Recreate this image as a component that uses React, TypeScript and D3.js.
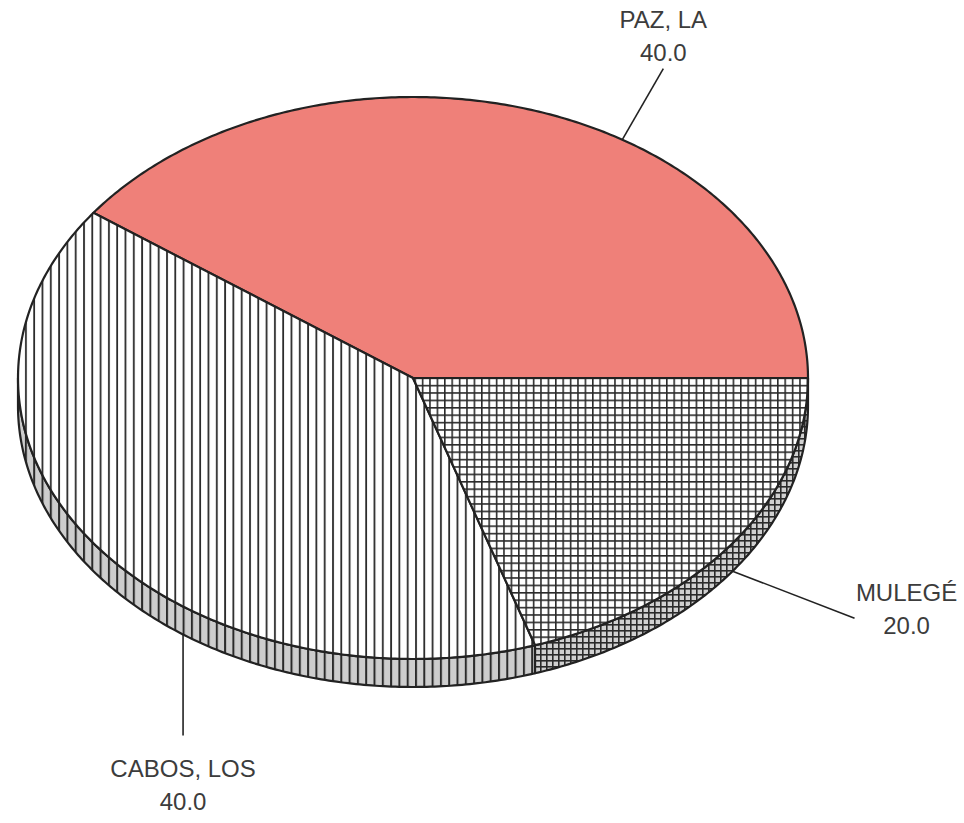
import * as d3 from 'd3';

const categories = ['PAZ, LA', 'CABOS, LOS', 'MULEGÉ'];
const values = [40.0, 40.0, 20.0];
const valueLabels = ['40.0', '40.0', '20.0'];

export default function App() {
  const width = 964;
  const height = 823;
  const cx = 413;
  const cy = 378;
  const rx = 395;
  const ry = 281;
  const depth = 28;
  const stroke = '#222';

  // angles go counter-clockwise from 3 o'clock, like the drawing
  const pie = d3
    .pie<number>()
    .sort(null)
    .value((d) => d)
    .startAngle(0)
    .endAngle(Math.PI * 2);
  const arcs = pie(values);

  const pt = (t: number, dz = 0): [number, number] => [cx + rx * Math.cos(t), cy - ry * Math.sin(t) + dz];
  const sample = (a: number, b: number, dz = 0) => {
    const n = Math.max(2, Math.ceil(Math.abs(b - a) / 0.01));
    return d3.range(n + 1).map((i) => pt(a + ((b - a) * i) / n, dz));
  };
  const line = d3.line();

  const topPath = (a: number, b: number) => line([[cx, cy], ...sample(a, b)])! + 'Z';
  const wallPath = (a: number, b: number) => {
    const s = Math.max(a, Math.PI);
    const e = Math.min(b, Math.PI * 2);
    if (e <= s) return null;
    return line([...sample(s, e), ...sample(e, s, depth)])! + 'Z';
  };

  const topFills = ['#ef8079', 'url(#vstripe)', 'url(#grid)'];
  const wallFills = ['#ef8079', 'url(#vstripeWall)', 'url(#gridWall)'];

  // leader layout: anchor angle (deg) on the rim, offset to label end
  const labelLayout = [
    { angle: 58, dx: 41, dy: -71, wall: false, textDx: 0, lines: [-41, -8] },
    { angle: 234.4, dx: 0, dy: 101, wall: true, textDx: 0, lines: [42, 75] },
    { angle: 324, dx: 122, dy: 47, wall: true, textDx: 52, lines: [-17, 16] },
  ];

  return (
    <svg width={width} height={height} style={{ position: 'absolute', left: 0, top: 0, background: '#fff' }}>
      <defs>
        <pattern id="vstripe" patternUnits="userSpaceOnUse" width={8.3} height={10}>
          <rect width={8.3} height={10} fill="#fff" />
          <line x1={1} x2={1} y1={0} y2={10} stroke="#2a2a2a" strokeWidth={1.8} />
        </pattern>
        <pattern id="vstripeWall" patternUnits="userSpaceOnUse" width={8.3} height={10}>
          <rect width={8.3} height={10} fill="#cdcdcd" />
          <line x1={1} x2={1} y1={0} y2={10} stroke="#2a2a2a" strokeWidth={2} />
        </pattern>
        <pattern id="grid" patternUnits="userSpaceOnUse" width={7.4} height={7.4}>
          <rect width={7.4} height={7.4} fill="#fff" />
          <line x1={0.8} x2={0.8} y1={0} y2={7.4} stroke="#2a2a2a" strokeWidth={1.6} />
          <line x1={0} x2={7.4} y1={0.8} y2={0.8} stroke="#2a2a2a" strokeWidth={1.6} />
        </pattern>
        <pattern id="gridWall" patternUnits="userSpaceOnUse" width={6} height={6}>
          <rect width={6} height={6} fill="#d0d0d0" />
          <line x1={0.8} x2={0.8} y1={0} y2={6} stroke="#2a2a2a" strokeWidth={1.6} />
          <line x1={0} x2={6} y1={0.8} y2={0.8} stroke="#2a2a2a" strokeWidth={1.6} />
        </pattern>
      </defs>

      {/* side walls */}
      {arcs.map((a, i) => {
        const d = wallPath(a.startAngle, a.endAngle);
        return d ? <path key={'w' + i} d={d} fill={wallFills[i]} stroke={stroke} strokeWidth={2.2} strokeLinejoin="round" /> : null;
      })}

      {/* top faces */}
      {arcs.map((a, i) => (
        <path key={'t' + i} d={topPath(a.startAngle, a.endAngle)} fill={topFills[i]} stroke={stroke} strokeWidth={2.2} strokeLinejoin="round" />
      ))}

      {/* labels */}
      {arcs.map((a, i) => {
        const lay = labelLayout[i];
        const [x0, y0] = pt((lay.angle * Math.PI) / 180, lay.wall ? depth : 0);
        const x1 = x0 + lay.dx;
        const y1 = y0 + lay.dy;
        const tx = x1 + lay.textDx;
        return (
          <g key={'l' + i}>
            <line x1={x0} y1={y0} x2={x1} y2={y1} stroke="#222" strokeWidth={1.6} />
            <text x={tx} y={y1 + lay.lines[0]} textAnchor="middle" fontFamily="Liberation Sans, Arial, sans-serif" fontSize={24} fill="#3c3c3c">
              {categories[i]}
            </text>
            <text x={tx} y={y1 + lay.lines[1]} textAnchor="middle" fontFamily="Liberation Sans, Arial, sans-serif" fontSize={24} fill="#3c3c3c">
              {valueLabels[i]}
            </text>
          </g>
        );
      })}
    </svg>
  );
}
